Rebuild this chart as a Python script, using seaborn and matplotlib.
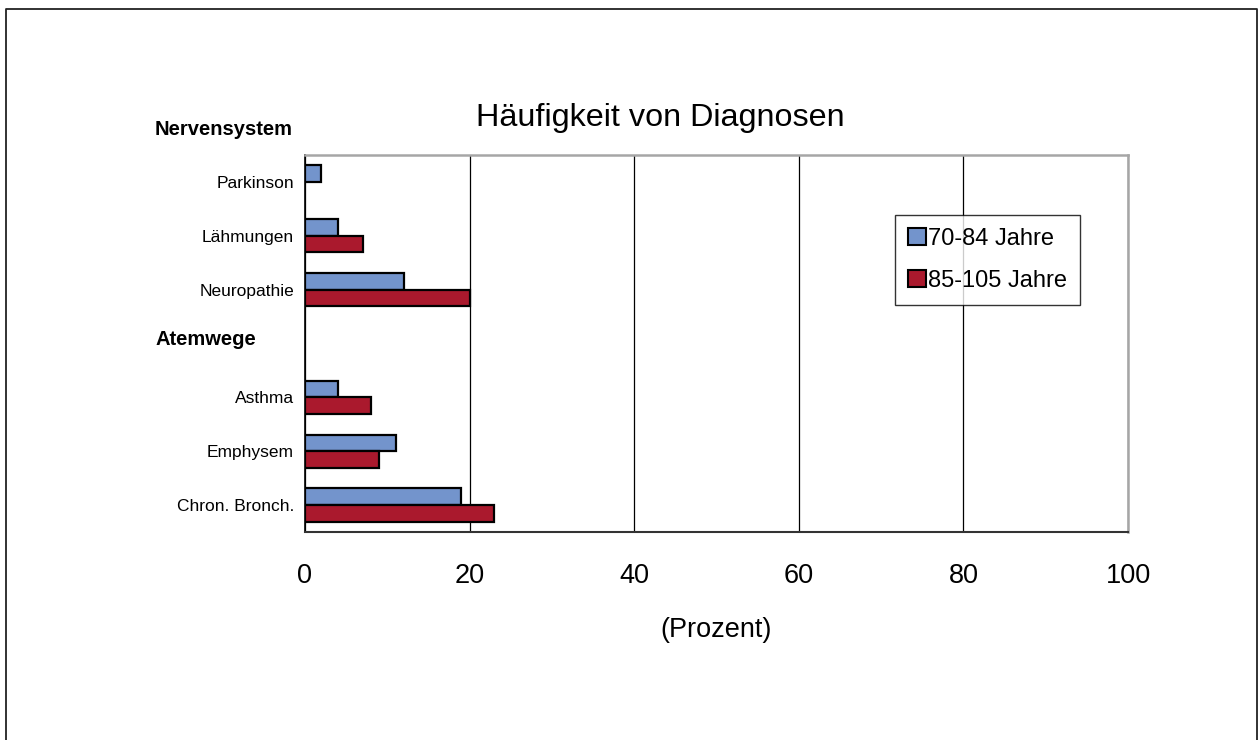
import matplotlib
matplotlib.use("Agg")
import matplotlib.pyplot as plt
import matplotlib.transforms as mtransforms
from matplotlib.lines import Line2D
import seaborn as sns
import pandas as pd
import numpy as np

# Daten (Prozent), von oben nach unten
kategorien = ["Parkinson", "Lähmungen", "Neuropathie", "Atemwege",
              "Asthma", "Emphysem", "Chron. Bronch."]
jahre_70_84 = [2, 4, 12, np.nan, 4, 11, 19]
jahre_85_105 = [np.nan, 7, 20, np.nan, 8, 9, 23]
gruppen = ["70-84 Jahre", "85-105 Jahre"]
farben = ["#7394CC", "#AA192D"]
x_ticks = [0, 20, 40, 60, 80, 100]

df = pd.DataFrame({
    "kategorie": kategorien * 2,
    "prozent": jahre_70_84 + jahre_85_105,
    "gruppe": [gruppen[0]] * len(kategorien) + [gruppen[1]] * len(kategorien),
})

sns.set_style("white")
plt.rcParams["font.family"] = ["Liberation Sans", "DejaVu Sans"]
plt.rcParams["text.color"] = "black"
plt.rcParams["xtick.color"] = "black"
plt.rcParams["ytick.color"] = "black"

fig = plt.figure(figsize=(12.6, 7.4), dpi=100)
ax = fig.add_axes([305 / 1260, 1 - 532 / 740, (1128 - 305) / 1260, (532 - 155) / 740])

sns.barplot(data=df, x="prozent", y="kategorie", hue="gruppe", order=kategorien,
            hue_order=gruppen, palette=farben, orient="h", width=0.62,
            edgecolor="black", linewidth=1.6, saturation=1, errorbar=None, ax=ax)

ax.set_xlim(0, 100)
ax.set_ylim(len(kategorien) - 0.5, -0.5)
ax.set_xticks(x_ticks)
ax.set_xticklabels([str(t) for t in x_ticks], fontsize=19.5)
ax.tick_params(axis="x", length=6, width=1, color="#333333", pad=16, direction="out")
ax.set_yticks(range(len(kategorien)))
ax.set_yticklabels([k if k != "Atemwege" else "" for k in kategorien], fontsize=12.5)
ax.tick_params(axis="y", length=0, pad=8)
ax.set_xlabel("")
ax.set_ylabel("")

# vertikale Gitterlinien
ax.xaxis.grid(True, color="black", linewidth=0.9)
ax.set_axisbelow(True)

for s in ["top", "right"]:
    ax.spines[s].set_color("#A6A6A6")
    ax.spines[s].set_linewidth(1.8)
ax.spines["left"].set_color("black")
ax.spines["left"].set_linewidth(1.2)
ax.spines["bottom"].set_color("#333333")
ax.spines["bottom"].set_linewidth(1.5)
for s in ax.spines.values():
    s.set_visible(True)

# Gruppenüberschriften
trans = mtransforms.blended_transform_factory(fig.transFigure, ax.transData)
ax.text(155 / 1260, -0.98, "Nervensystem", transform=trans, fontsize=14.5,
        fontweight="bold", ha="left", va="center", clip_on=False)
ax.text(155 / 1260, 2.93, "Atemwege", transform=trans, fontsize=14.5,
        fontweight="bold", ha="left", va="center", clip_on=False)

# Titel und Achsenbeschriftung
fig.text(660 / 1260, 1 - 118 / 740, "Häufigkeit von Diagnosen", fontsize=23.3,
         ha="center", va="center")
fig.text(716.5 / 1260, 1 - 630 / 740, "(Prozent)", fontsize=19.5,
         ha="center", va="center")

# Legende
leg = ax.legend(loc="upper left", bbox_to_anchor=(895 / 1260, 1 - 215 / 740),
                bbox_transform=fig.transFigure, fontsize=17, frameon=True,
                fancybox=False, handlelength=0.75, handleheight=0.75,
                handletextpad=0.1, borderpad=0.55, labelspacing=0.85,
                borderaxespad=0)
leg.get_frame().set_edgecolor("black")
leg.get_frame().set_linewidth(1.0)
for h in leg.legend_handles:
    h.set_edgecolor("black")
    h.set_linewidth(1.5)

# Rahmen um die Grafik
fx0, fx1, fy1 = 6 / 1260, 1257 / 1260, 1 - 9 / 740
fig.add_artist(Line2D([fx0, fx0, fx1, fx1], [0, fy1, fy1, 0],
                      transform=fig.transFigure, color="#222222", linewidth=1.3))

fig.savefig("out.png", dpi=100)
